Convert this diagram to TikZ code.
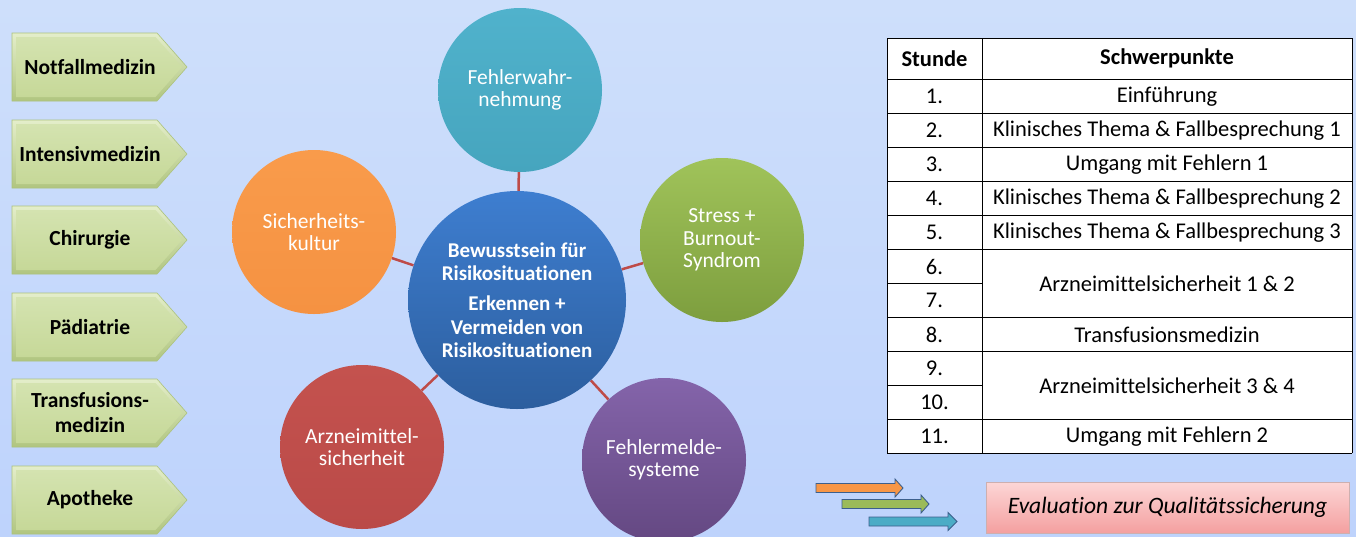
\documentclass[tikz,border=0pt]{standalone}
\usepackage{fontspec}
\setmainfont[Ligatures=NoCommon]{Carlito}
\usetikzlibrary{calc}
\definecolor{bgtop}{RGB}{206,223,251}
\definecolor{bgbot}{RGB}{190,211,252}
\definecolor{boxtop}{RGB}{212,227,176}
\definecolor{boxbot}{RGB}{198,216,152}
\definecolor{bevtop}{RGB}{228,238,202}
\definecolor{bevbot}{RGB}{176,197,128}
\definecolor{boxline}{RGB}{172,194,124}
\definecolor{linkred}{RGB}{190,75,72}
\definecolor{tealtop}{RGB}{80,178,204}
\definecolor{tealbot}{RGB}{70,165,190}
\definecolor{orgtop}{RGB}{249,155,75}
\definecolor{orgbot}{RGB}{245,146,66}
\definecolor{grntop}{RGB}{160,195,90}
\definecolor{grnbot}{RGB}{125,158,62}
\definecolor{purtop}{RGB}{132,100,170}
\definecolor{purbot}{RGB}{100,72,130}
\definecolor{redtop}{RGB}{196,82,78}
\definecolor{redbot}{RGB}{186,74,72}
\definecolor{ctop}{RGB}{62,126,208}
\definecolor{cbot}{RGB}{44,94,158}
\definecolor{arrline}{RGB}{60,95,140}
\definecolor{aorange}{RGB}{247,150,70}
\definecolor{agreen}{RGB}{155,187,89}
\definecolor{ateal}{RGB}{75,172,198}
\definecolor{evtop}{RGB}{252,214,214}
\definecolor{evbot}{RGB}{244,160,160}
\begin{document}
\begin{tikzpicture}[x=1pt,y=-1pt,
  lbev/.style={draw=boxline, line width=0.6pt, top color=bevtop, bottom color=bevbot},
  lbox/.style={top color=boxtop, bottom color=boxbot},
  lbl/.style={font=\fontsize{21.5}{25}\selectfont\bfseries, align=center, text=black},
  bub/.style={circle, minimum size=164pt, inner sep=0pt, font=\fontsize{21.5}{22.5}\selectfont, text=white, align=center},
  hub/.style={circle, minimum size=218pt, inner sep=0pt, font=\fontsize{21}{23.5}\selectfont\bfseries, text=white, align=center, top color=ctop, bottom color=cbot},
  link/.style={draw=linkred, line width=2.5pt},
  tcell/.style={font=\fontsize{22.5}{26}\selectfont, text=black, inner sep=0pt},
  thead/.style={tcell, font=\fontsize{22.5}{26}\selectfont\bfseries},
  tline/.style={draw=black, line width=0.8pt},
  sarrow/.style={draw=arrline, line width=0.9pt, line join=miter},
  evbox/.style={rectangle, draw={rgb,255:red,205;green,175;blue,175}, line width=0.6pt, top color=evtop, bottom color=evbot, minimum width=363pt, minimum height=51pt, font=\fontsize{23.5}{27}\selectfont\itshape}
]
\useasboundingbox (0,0) rectangle (1356,536);
\clip (0,0) rectangle (1356,536);
\fill[top color=bgtop, bottom color=bgbot] (0,0) rectangle (1356,536);

% left arrow boxes
\foreach \y/\t [count=\i] in {67/Notfallmedizin, 154/Intensivmedizin, 240/Chirurgie, 327/Pädiatrie, 413/{Transfusions-\\medizin}, 500/Apotheke}{
  \path[lbev] (12,\y-34) -- (157,\y-34) -- (187,\y) -- (157,\y+34) -- (12,\y+34) -- cycle;
  \path[lbox] (16,\y-30) -- (155.5,\y-30) -- (182,\y) -- (155.5,\y+30) -- (16,\y+30) -- cycle;
  \node[lbl] (l\i) at (90,\y) {\t};
}

% bubbles
\node[hub] (c) at (517,300) {Bewusstsein für\\Risikosituationen\\[6.5pt]Erkennen +\\Vermeiden von\\Risikosituationen};
\node[bub, top color=tealtop, bottom color=tealbot] (f) at (520,90) {Fehlerwahr-\\nehmung};
\node[bub, top color=orgtop, bottom color=orgbot] (s) at (314,232) {Sicherheits-\\kultur};
\node[bub, top color=grntop, bottom color=grnbot] (b) at (722,240) {Stress +\\Burnout-\\Syndrom};
\node[bub, top color=purtop, bottom color=purbot] (m) at (664,460) {Fehlermelde-\\systeme};
\node[bub, top color=redtop, bottom color=redbot] (a) at (362,447) {Arzneimittel-\\sicherheit};
\foreach \o in {f,s,b,m,a}{\draw[link] (c) -- (\o);}

% table
\fill[white] (887,38) rectangle (1352,453);
\foreach \yy in {38,79,113,147,181,215,249,317,351,419,453}{\draw[tline] (887,\yy) -- (1352,\yy);}
\draw[tline] (887,283) -- (982,283);
\draw[tline] (887,385) -- (982,385);
\foreach \xx in {887,982,1352}{\draw[tline] (\xx,38) -- (\xx,453);}
\node[thead] (h1) at (934.5,58.5) {Stunde};
\node[thead] (h2) at (1167,58.5) {Schwerpunkte};
\foreach \i in {1,...,11}{\node[tcell] (n\i) at (934.5,{96.5+34*(\i-1)}) {\i.};}
\node[tcell] (t1) at (1167,96.5) {Einführung};
\node[tcell] (t2) at (1167,130.5) {Klinisches Thema \& Fallbesprechung 1};
\node[tcell] (t3) at (1167,164.5) {Umgang mit Fehlern 1};
\node[tcell] (t4) at (1167,198.5) {Klinisches Thema \& Fallbesprechung 2};
\node[tcell] (t5) at (1167,232.5) {Klinisches Thema \& Fallbesprechung 3};
\node[tcell] (t6) at (1167,283.5) {Arzneimittelsicherheit 1 \& 2};
\node[tcell] (t8) at (1167,334.5) {Transfusionsmedizin};
\node[tcell] (t9) at (1167,385.5) {Arzneimittelsicherheit 3 \& 4};
\node[tcell] (t11) at (1167,436.5) {Umgang mit Fehlern 2};

% bottom arrows
\foreach \xa/\xb/\xt/\yc/\col in {816/895/903/488/aorange, 842/921/929/504/agreen, 869/948/957/521.5/ateal}{
  \path[sarrow, fill=\col] (\xa,\yc-4.5) -- (\xb,\yc-4.5) -- (\xb,\yc-9) -- (\xt,\yc) -- (\xb,\yc+9) -- (\xb,\yc+4.5) -- (\xa,\yc+4.5) -- cycle;
}
% evaluation box
\node[evbox] (ev) at (1167.5,507.5) {Evaluation zur Qualitätssicherung};
\end{tikzpicture}
\end{document}
